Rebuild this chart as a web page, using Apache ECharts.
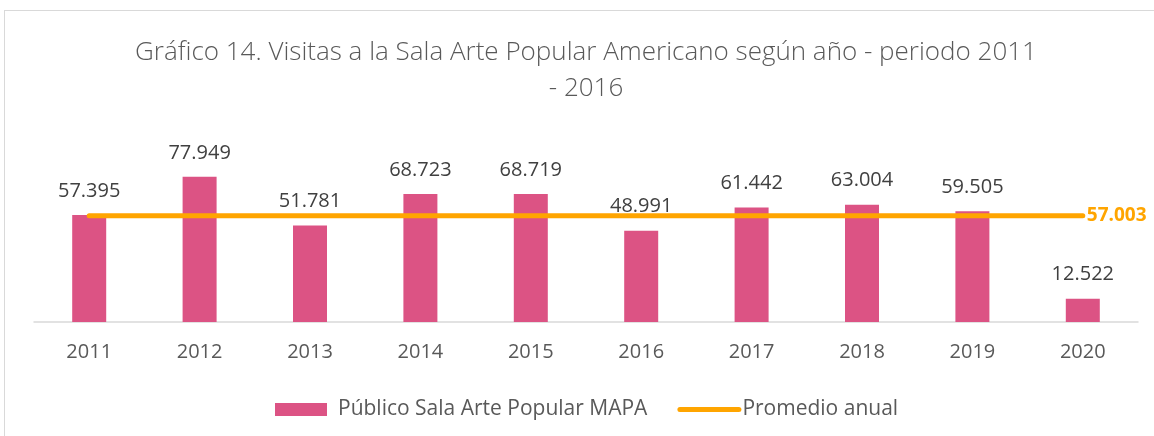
<!DOCTYPE html>
<html><head><meta charset="utf-8">
<script src="https://cdn.jsdelivr.net/npm/echarts@6/dist/echarts.min.js"></script>
<style>
html,body{margin:0;padding:0;background:#fff;overflow:hidden}
#frame{position:absolute;left:4px;top:10px;width:1200px;height:500px;border:1.5px solid #d9d9d9;box-sizing:border-box}
#c{position:absolute;left:0;top:0;width:1154px;height:436px}
</style></head>
<body><div id="frame"></div><div id="c"></div>
<script>
const categories = ['2011','2012','2013','2014','2015','2016','2017','2018','2019','2020'];
const visitas = [57.395, 77.949, 51.781, 68.723, 68.719, 48.991, 61.442, 63.004, 59.505, 12.522];
const promedio = [57.003, 57.003, 57.003, 57.003, 57.003, 57.003, 57.003, 57.003, 57.003, 57.003];
const fmt = v => v.toFixed(3);
const chart = echarts.init(document.getElementById('c'));
const F = "'Open Sans', sans-serif";
chart.setOption({
  animation:false,
  title:{text:'Gráfico 14. Visitas a la Sala Arte Popular Americano según año - periodo 2011\n- 2016',
    left:581, top:30, textAlign:'center',
    textStyle:{fontFamily:F,fontSize:26,fontWeight:300,color:'#595959',lineHeight:36}},
  grid:{left:34,right:16,top:173,bottom:114},
  legend:{top:394,left:270,itemGap:30,itemWidth:64,itemHeight:13,symbolKeepAspect:true,
    textStyle:{fontFamily:F,fontSize:21,color:'#595959'},
    data:[{name:'Público Sala Arte Popular MAPA',icon:'path://M0,0h52v13h-52z'},
          {name:'Promedio anual',icon:'path://M2.5,0h59a2.5,2.5 0 0 1 0,5h-59a2.5,2.5 0 0 1 0,-5z',textStyle:{padding:[0,0,0,-4]}}]},
  xAxis:{type:'category',data:categories,
    axisLine:{lineStyle:{color:'#d9d9d9',width:1.5}},axisTick:{show:false},
    axisLabel:{fontFamily:F,fontSize:20,color:'#595959',margin:20}},
  yAxis:{type:'value',min:0,max:80,show:false},
  series:[
    {name:'Público Sala Arte Popular MAPA',type:'bar',data:visitas,barWidth:34,
     itemStyle:{color:'#dc5384'},
     label:{show:true,position:'top',distance:14,formatter:p=>fmt(p.value),
       fontFamily:F,fontSize:20,color:'#404040'}},
    {name:'Promedio anual',type:'line',data:promedio,symbol:'none',
     lineStyle:{color:'#ffa500',width:5,cap:'round'},itemStyle:{color:'#ffa500'},
     endLabel:{show:true,formatter:p=>fmt(p.value),fontFamily:F,fontSize:19,fontWeight:'bold',color:'#ffa500',distance:4}}
  ]
});
</script></body></html>
